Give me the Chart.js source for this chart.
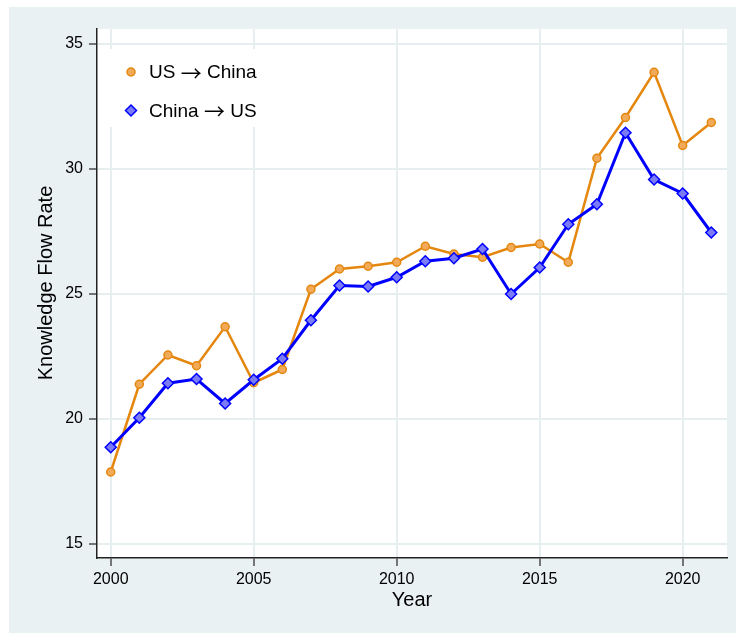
<!DOCTYPE html>
<html>
<head>
<meta charset="utf-8">
<script src="https://cdn.jsdelivr.net/npm/chart.js@4/dist/chart.umd.min.js"></script>
<style>
  body { margin: 0; background: #fff; }
  #wrap { width: 736px; height: 635px; }
</style>
</head>
<body>
<div id="wrap"><canvas id="chart" width="736" height="635"></canvas></div>
<script>
// values
const years = [2000, 2001, 2002, 2003, 2004, 2005, 2006, 2007, 2008, 2009, 2010,
               2011, 2012, 2013, 2014, 2015, 2016, 2017, 2018, 2019, 2020, 2021];
const usToChina = [17.88, 21.39, 22.56, 22.13, 23.69, 21.45, 21.98, 25.19, 26.0, 26.11, 26.27,
                   26.91, 26.6, 26.47, 26.86, 27.0, 26.27, 30.43, 32.06, 33.87, 30.94, 31.86];
const chinaToUs = [18.87, 20.05, 21.43, 21.6, 20.62, 21.57, 22.41, 23.95, 25.34, 25.3, 25.67,
                   26.31, 26.43, 26.8, 25.0, 26.06, 27.79, 28.59, 31.45, 29.58, 29.02, 27.46];
const xTicks = [2000, 2005, 2010, 2015, 2020];
const yTicks = [15, 20, 25, 30, 35];
const seriesNames = ["US \u2192 China", "China \u2192 US"];
const yTitle = "Knowledge Flow Rate";

const FONT = "'Liberation Sans', Arial, Helvetica, sans-serif";
const ARROW_FONT = "'Noto Sans CJK JP', 'DejaVu Sans', sans-serif";
const BG = "#eaf1f3";
const GRID = "#e6eef0";
const ORANGE = "#e5870f";
const ORANGE_FILL = "#f0aa58";
const BLUE = "#0000ff";
const BLUE_FILL = "#7b7bf8";

// outer bluish panel + white plot region
const background = {
    id: "background",
    beforeDraw(chart) {
        const { ctx, chartArea: a } = chart;
        ctx.save();
        ctx.fillStyle = BG;
        ctx.fillRect(9, 7, chart.width - 9, chart.height - 9);
        ctx.fillStyle = "#fff";
        ctx.fillRect(a.left, a.top, a.right - a.left, a.bottom - a.top);
        ctx.restore();
    }
};

// y title sits a little above the axis centre in the original
const yTitlePlugin = {
    id: "yTitlePlugin",
    afterDraw(chart) {
        const ctx = chart.ctx;
        ctx.save();
        ctx.translate(46, 283);
        ctx.rotate(-Math.PI / 2);
        ctx.font = "20px " + FONT;
        ctx.fillStyle = "#000";
        ctx.textAlign = "center";
        ctx.textBaseline = "middle";
        ctx.fillText(yTitle, 0, 0);
        ctx.restore();
    }
};

// write a label, giving the arrow glyph its own font
function drawLabel(ctx, text, x, y) {
    const parts = text.split(/(\u2192)/);
    parts.forEach(p => {
        ctx.font = (p === "\u2192" ? "21px " + ARROW_FONT : "19px " + FONT);
        ctx.fillText(p, x, y);
        x += ctx.measureText(p).width;
    });
}

// legend box inside the plot, top left
const insideLegend = {
    id: "insideLegend",
    beforeDatasetsDraw(chart) {
        const { ctx, chartArea: a } = chart;
        const x0 = a.left + 8, y0 = a.top + 20;
        ctx.save();
        ctx.fillStyle = "#fff";
        ctx.fillRect(x0, y0, 158, 78);
        ctx.textBaseline = "middle";
        const rows = [chart.data.datasets[1], chart.data.datasets[0]];
        rows.forEach((ds, i) => {
            const cy = y0 + 23 + i * 38.5;
            const cx = a.left + 34;
            ctx.fillStyle = ds.pointBackgroundColor;
            ctx.strokeStyle = ds.pointBorderColor;
            ctx.lineWidth = ds.pointBorderWidth;
            ctx.beginPath();
            if (ds.pointStyle === "circle") {
                ctx.arc(cx, cy, ds.pointRadius, 0, Math.PI * 2);
            } else {
                const r = ds.pointRadius;
                ctx.moveTo(cx, cy - r); ctx.lineTo(cx + r, cy);
                ctx.lineTo(cx, cy + r); ctx.lineTo(cx - r, cy);
                ctx.closePath();
            }
            ctx.fill();
            ctx.stroke();
            ctx.fillStyle = "#000";
            drawLabel(ctx, ds.label, a.left + 52, cy + 1);
        });
        ctx.restore();
    }
};

const toPoints = vals => years.map((y, i) => ({ x: y, y: vals[i] }));

new Chart(document.getElementById("chart"), {
    type: "line",
    data: {
        datasets: [
            {
                label: seriesNames[1],
                data: toPoints(chinaToUs),
                borderColor: BLUE,
                borderWidth: 3,
                pointStyle: "rectRot",
                pointRadius: 5.5,
                pointBackgroundColor: BLUE_FILL,
                pointBorderColor: BLUE,
                pointBorderWidth: 1.5,
                tension: 0,
                order: 1
            },
            {
                label: seriesNames[0],
                data: toPoints(usToChina),
                borderColor: ORANGE,
                borderWidth: 2.5,
                pointStyle: "circle",
                pointRadius: 4,
                pointBackgroundColor: ORANGE_FILL,
                pointBorderColor: ORANGE,
                pointBorderWidth: 1.5,
                tension: 0,
                order: 2
            }
        ]
    },
    options: {
        responsive: false,
        animation: false,
        layout: { padding: { top: 29, right: 9, left: 0, bottom: 0 } },
        plugins: {
            legend: { display: false },
            tooltip: { enabled: false }
        },
        scales: {
            x: {
                type: "linear",
                min: 1999.52,
                max: 2021.55,
                afterBuildTicks: s => { s.ticks = xTicks.map(v => ({ value: v })); },
                afterFit: s => { s.height = 77; },
                ticks: {
                    color: "#000",
                    font: { family: FONT, size: 16 },
                    padding: 4,
                    maxRotation: 0,
                    callback: v => String(v)
                },
                grid: {
                    color: GRID,
                    lineWidth: 2,
                    tickColor: "#222",
                    tickWidth: 1.2,
                    tickLength: 8
                },
                border: { color: "#222", width: 1.5 },
                title: {
                    display: true,
                    text: "Year",
                    color: "#000",
                    font: { family: FONT, size: 20 },
                    padding: { top: 0, bottom: 23 }
                }
            },
            y: {
                type: "linear",
                min: 14.44,
                max: 35.6,
                afterBuildTicks: s => { s.ticks = yTicks.map(v => ({ value: v })); },
                afterFit: s => { s.width = 97; },
                ticks: {
                    color: "#000",
                    font: { family: FONT, size: 16 },
                    padding: 6,
                    callback: v => String(v)
                },
                grid: {
                    color: GRID,
                    lineWidth: 2,
                    tickColor: "#222",
                    tickWidth: 1.2,
                    tickLength: 8
                },
                border: { color: "#222", width: 1.5 }
            }
        }
    },
    plugins: [background, insideLegend, yTitlePlugin]
});
</script>
</body>
</html>
